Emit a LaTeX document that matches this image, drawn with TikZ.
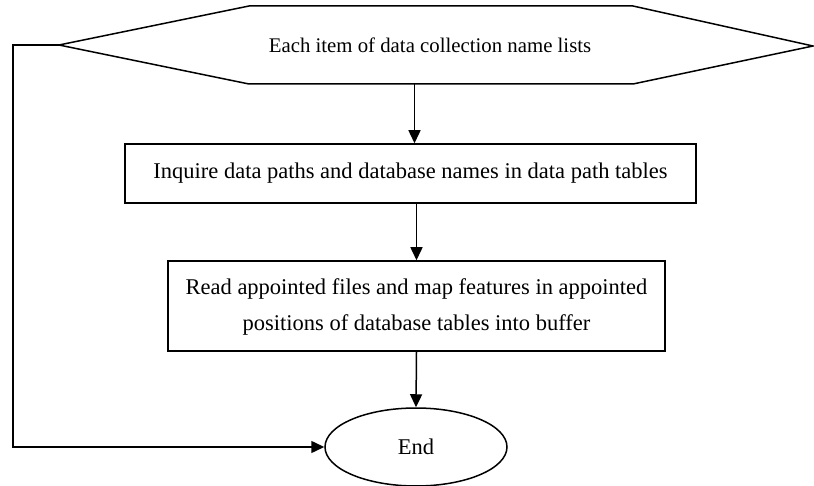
\documentclass[tikz,border=0pt]{standalone}
\usepackage{fontspec}
\setmainfont{Liberation Serif}
\usetikzlibrary{arrows.meta,shapes.geometric}
\begin{document}
\begin{tikzpicture}[x=1pt,y=-1pt,
  line width=1.5pt,
  arr/.style={-{Triangle[length=13pt,width=12pt]}},
  lbl/.style={font=\fontsize{22.5}{36}\selectfont, inner sep=0pt},
  boxnode/.style={draw, rectangle, lbl, align=center}]
\useasboundingbox (0,0) rectangle (814,486);
% hexagon vertices
\coordinate (hw) at (59,45);
\coordinate (htl) at (249,6);
\coordinate (htr) at (633,6);
\coordinate (he) at (813,46);
\coordinate (hbr) at (633,84);
\coordinate (hbl) at (249,84);
\draw (hw) -- (htl) -- (htr) -- (he) -- (hbr) -- (hbl) -- cycle;
\node[lbl, font=\fontsize{20.8}{30}\selectfont, minimum height=78pt] (hex) at (430,45) {Each item of data collection name lists};
\node[boxnode, minimum width=571pt, minimum height=59pt] (b1) at (410.5,173.5)
  {Inquire data paths and database names in data path tables};
\node[boxnode, minimum width=497pt, minimum height=90pt, text depth=3pt] (b2) at (416.5,306)
  {Read appointed files and map features in appointed\\positions of database tables into buffer};
\node[draw, ellipse, lbl, minimum width=182pt, minimum height=78pt] (end) at (416,447) {End};
\coordinate (lc) at (13,45);
\draw[arr] (hbl -| b1.north) ++(4,0) coordinate (a1) -- (a1 |- b1.north);
\draw[arr] (b1.south -| b2.north) -- (b2.north);
\draw[arr] (b2.south) -- (end.north);
\draw[arr] (hw) -- (lc) |- (end.west);
\end{tikzpicture}
\end{document}
